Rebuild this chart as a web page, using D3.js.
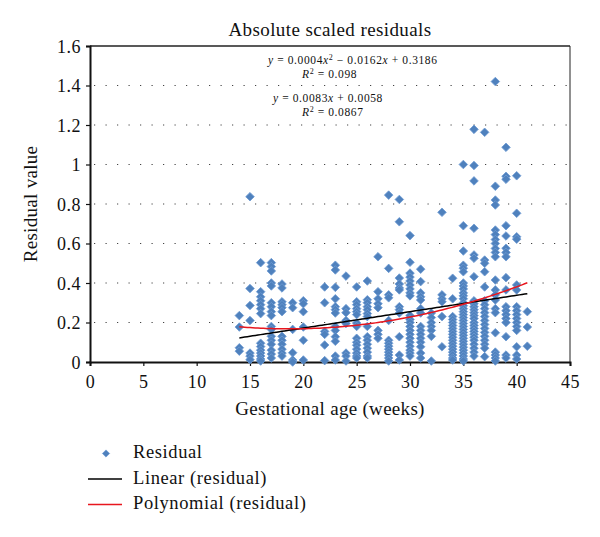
<!DOCTYPE html>
<html>
<head>
<meta charset="utf-8">
<script src="https://cdn.jsdelivr.net/npm/d3@7"></script>
<style>
  html, body { margin: 0; padding: 0; background: #fff; }
  svg { display: block; }
  text { font-family: "Liberation Serif", "Times New Roman", serif; fill: #111; }
</style>
</head>
<body>
<script>
// ---------- data ----------
const ages = [14,15,16,17,18,19,20,22,23,24,25,26,27,28,29,30,31,32,33,34,35,36,37,38,39,40,41];
const residualsByAge = [
  [0.235,0.177,0.072,0.055],
  [0.837,0.372,0.286,0.21,0.045,0.03,0.012],
  [0.503,0.356,0.33,0.31,0.29,0.27,0.245,0.095,0.078,0.06,0.045,0.03,0.015,0.005],
  [0.503,0.483,0.461,0.40,0.385,0.30,0.28,0.255,0.235,0.18,0.165,0.13,0.11,0.09,0.06,0.04,0.02],
  [0.395,0.375,0.305,0.29,0.275,0.255,0.13,0.11,0.09,0.065,0.045,0.03],
  [0.30,0.275,0.165,0.047,0.01,0.0],
  [0.31,0.295,0.255,0.177,0.11,0.01],
  [0.38,0.30,0.155,0.14,0.086,0.007],
  [0.49,0.466,0.378,0.32,0.28,0.265,0.248,0.18,0.16,0.128,0.105,0.03,0.01],
  [0.435,0.27,0.25,0.21,0.195,0.045,0.03,0.005],
  [0.38,0.305,0.29,0.27,0.255,0.24,0.197,0.18,0.12,0.1,0.085,0.065,0.045,0.03,0.02],
  [0.41,0.315,0.3,0.28,0.265,0.245,0.23,0.18,0.128,0.11,0.09,0.07,0.05,0.03,0.02],
  [0.533,0.356,0.32,0.295,0.275,0.16,0.14,0.12],
  [0.845,0.474,0.34,0.325,0.21,0.11,0.095,0.08,0.065,0.05,0.035,0.02,0.005],
  [0.823,0.71,0.425,0.395,0.375,0.365,0.28,0.265,0.248,0.128,0.035,0.01],
  [0.64,0.505,0.45,0.43,0.41,0.39,0.37,0.35,0.335,0.235,0.215,0.2,0.18,0.16,0.14,0.12,0.1,0.08,0.06,0.045,0.03],
  [0.47,0.407,0.35,0.33,0.314,0.27,0.248,0.18,0.16,0.14,0.12,0.1,0.077,0.045,0.02],
  [0.248,0.225,0.2,0.18,0.16,0.13,0.005],
  [0.758,0.34,0.32,0.305,0.23,0.077],
  [0.424,0.32,0.23,0.215,0.2,0.185,0.17,0.155,0.14,0.125,0.11,0.095,0.08,0.065,0.05,0.035,0.02,0.01],
  [1.0,0.69,0.562,0.49,0.475,0.457,0.40,0.385,0.37,0.35,0.335,0.32,0.3,0.285,0.27,0.255,0.24,0.225,0.21,0.195,0.18,0.165,0.15,0.135,0.12,0.105,0.09,0.075,0.06,0.045,0.03,0.015,0.005],
  [1.178,0.995,0.917,0.677,0.542,0.525,0.432,0.31,0.295,0.28,0.265,0.25,0.235,0.22,0.2,0.185,0.17,0.155,0.14,0.125,0.11,0.09,0.07,0.05,0.03],
  [1.163,0.516,0.5,0.457,0.38,0.31,0.29,0.27,0.25,0.23,0.21,0.19,0.17,0.15,0.13,0.11,0.09,0.07,0.027],
  [1.42,0.89,0.82,0.795,0.668,0.645,0.62,0.6,0.575,0.555,0.533,0.415,0.365,0.34,0.314,0.27,0.25,0.148,0.05,0.035,0.02,0.005],
  [1.087,0.94,0.925,0.69,0.638,0.576,0.555,0.533,0.427,0.365,0.28,0.26,0.24,0.22,0.2,0.128,0.035,0.02],
  [0.943,0.753,0.634,0.622,0.39,0.365,0.28,0.26,0.24,0.22,0.2,0.18,0.16,0.077,0.035,0.015],
  [0.255,0.177,0.08]
];
const xTicks = [0,5,10,15,20,25,30,35,40,45];
const yTicks = [0,0.2,0.4,0.6,0.8,1,1.2,1.4,1.6];
const linearCoef = [0.0083, 0.0058];            // slope, intercept
const polyCoef = [0.00047, -0.0176, 0.3326];     // a, b, c (curve as drawn)
const fitRange = [14, 41];
const titleText = "Absolute scaled residuals";
const xTitle = "Gestational age (weeks)";
const yTitle = "Residual value";
const legendLabels = ["Residual", "Linear (residual)", "Polynomial (residual)"];

// ---------- layout ----------
const W = 600, H = 537;
const svg = d3.select("body").append("svg").attr("width", W).attr("height", H);
const x = d3.scaleLinear().domain([0,45]).range([90,570]);
const y = d3.scaleLinear().domain([0,1.6]).range([362,46]);

const blue = "#4f81bd";

// gridlines (dotted)
svg.append("g").selectAll("line").data(yTicks.filter(t => t > 0 && t < 1.6)).join("line")
  .attr("x1", x(0)+4).attr("x2", x(45))
  .attr("y1", d => y(d)).attr("y2", d => y(d))
  .attr("stroke", "#444").attr("stroke-width", 1.2)
  .attr("stroke-dasharray", "1.2,10.3");

// frame top/right
svg.append("line").attr("x1", x(0)).attr("x2", x(45)).attr("y1", y(1.6)).attr("y2", y(1.6))
  .attr("stroke", "#222").attr("stroke-width", 1.6);
svg.append("line").attr("x1", x(45)).attr("x2", x(45)).attr("y1", y(1.6)).attr("y2", y(0))
  .attr("stroke", "#222").attr("stroke-width", 1);

// axes
const xAxis = d3.axisBottom(x).tickValues(xTicks).tickSize(4).tickPadding(9).tickFormat(d3.format("~g"));
const yAxis = d3.axisLeft(y).tickValues(yTicks).tickSize(4).tickPadding(5).tickFormat(d3.format("~g"));
const gx = svg.append("g").attr("transform", `translate(0,${y(0)})`).call(xAxis);
const gy = svg.append("g").attr("transform", `translate(${x(0)},0)`).call(yAxis);
[gx, gy].forEach(g => {
  g.select(".domain").attr("stroke", "#111").attr("stroke-width", 2);
  g.selectAll(".tick line").attr("stroke", "#111").attr("stroke-width", 1.2);
  g.selectAll(".tick text").attr("font-family", '"Liberation Serif", serif')
    .attr("font-size", 18).attr("fill", "#111").style("letter-spacing", "0.5px");
});
gy.selectAll(".tick text").attr("dy", "0.35em");

// points
const points = [];
ages.forEach((a, i) => residualsByAge[i].forEach(v => points.push({a, v})));
const diamond = s => `M0,${-s}L${s},0L0,${s}L${-s},0Z`;
svg.append("g").selectAll("path").data(points).join("path")
  .attr("d", diamond(4.3))
  .attr("transform", d => `translate(${x(d.a)},${y(d.v)})`)
  .attr("fill", blue).attr("stroke", "#6d9ad3").attr("stroke-width", 0.8);

// trend lines
const xs = d3.range(fitRange[0], fitRange[1] + 0.001, 0.25);
const line = d3.line().x(d => x(d[0])).y(d => y(d[1]));
svg.append("path")
  .datum(xs.map(t => [t, linearCoef[0]*t + linearCoef[1]]))
  .attr("d", line).attr("fill", "none").attr("stroke", "#000").attr("stroke-width", 1.5);
svg.append("path")
  .datum(xs.map(t => [t, polyCoef[0]*t*t + polyCoef[1]*t + polyCoef[2]]))
  .attr("d", line).attr("fill", "none").attr("stroke", "#e8161e").attr("stroke-width", 1.5);

// title
svg.append("text").attr("x", 330).attr("y", 36).attr("text-anchor", "middle")
  .attr("font-size", 19).style("letter-spacing", "0.4px").text(titleText);

// axis titles
svg.append("text").attr("x", 330).attr("y", 415).attr("text-anchor", "middle")
  .attr("font-size", 19).style("letter-spacing", "0.3px").text(xTitle);
svg.append("text").attr("transform", "translate(37,204) rotate(-90)").attr("text-anchor", "middle")
  .attr("font-size", 19).style("letter-spacing", "0.3px").text(yTitle);

// equations
function eq(xp, yp, parts) {
  const t = svg.append("text").attr("x", xp).attr("y", yp).attr("font-size", 11.5)
    .style("letter-spacing", "0.6px");
  parts.forEach(p => {
    const ts = t.append("tspan").text(p.t);
    if (p.i) ts.attr("font-style", "italic");
    if (p.sup) ts.attr("font-size", 8).attr("dy", -4);
    if (p.down) ts.attr("dy", 4);
  });
}
eq(268, 63.5, [{t:"y", i:1},{t:" = 0.0004"},{t:"x", i:1},{t:"2", sup:1},{t:" − 0.0162", down:1},{t:"x", i:1},{t:" + 0.3186"}]);
eq(302, 78, [{t:"R", i:1},{t:"2", sup:1},{t:" = 0.098", down:1}]);
eq(273, 101.5, [{t:"y", i:1},{t:" = 0.0083"},{t:"x", i:1},{t:" + 0.0058"}]);
eq(302, 116, [{t:"R", i:1},{t:"2", sup:1},{t:" = 0.0867", down:1}]);

// legend
const lg = svg.append("g");
lg.append("path").attr("d", diamond(3.6)).attr("transform", "translate(106,453.5)")
  .attr("fill", blue).attr("stroke", "#6d9ad3").attr("stroke-width", 0.8);
lg.append("line").attr("x1", 88).attr("x2", 122).attr("y1", 479).attr("y2", 479)
  .attr("stroke", "#000").attr("stroke-width", 1.4);
lg.append("line").attr("x1", 88).attr("x2", 122).attr("y1", 504.5).attr("y2", 504.5)
  .attr("stroke", "#e8161e").attr("stroke-width", 1.4);
[458.3, 484.3, 508.8].forEach((yy, i) => {
  lg.append("text").attr("x", 133).attr("y", yy).attr("font-size", 18.5)
    .style("letter-spacing", "0.6px").text(legendLabels[i]);
});
</script>
</body>
</html>
